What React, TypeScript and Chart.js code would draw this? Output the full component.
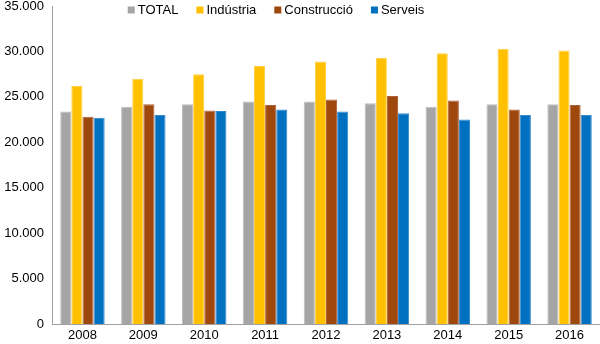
import React, { useEffect, useRef } from "react";
import { Chart, registerables } from "chart.js";

Chart.register(...registerables);

const years = ["2008", "2009", "2010", "2011", "2012", "2013", "2014", "2015", "2016"];
const total = [23400, 23900, 24200, 24500, 24500, 24300, 23900, 24200, 24200];
const industria = [26200, 27000, 27500, 28400, 28900, 29300, 29800, 30300, 30100];
const construccio = [22800, 24200, 23500, 24100, 24700, 25100, 24600, 23600, 24100];
const serveis = [22700, 23000, 23450, 23600, 23400, 23200, 22500, 23000, 23000];
const seriesNames = ["TOTAL", "Indústria", "Construcció", "Serveis"];
const seriesColors = ["#A5A5A5", "#FFC000", "#9E480E", "#0070C0"];
const seriesBorders = ["#BDBDBD", "#FFCF40", "#AE623A", "#3389CC"];

const FONT = "'Liberation Sans', Arial, sans-serif";

const fmt = (v: number) => {
  const s = Math.round(v).toString();
  return s.replace(/\B(?=(\d{3})+(?!\d))/g, ".");
};

const legendPlugin = {
  id: "topLegend",
  afterDraw(chart: any) {
    const ctx = chart.ctx;
    ctx.save();
    ctx.font = `13px ${FONT}`;
    ctx.textBaseline = "middle";
    const box = 7;
    const gapBox = 3;
    const gapItem = 18;
    const items = chart.data.datasets.map((d: any) => ({
      label: d.label,
      color: d.backgroundColor,
      w: box + gapBox + ctx.measureText(d.label).width,
    }));
    const totalW = items.reduce((a: number, it: any) => a + it.w, 0) + gapItem * (items.length - 1);
    let x = 276 - totalW / 2;
    const y = 10;
    items.forEach((it: any) => {
      ctx.fillStyle = it.color;
      ctx.fillRect(x, y - box / 2, box, box);
      ctx.fillStyle = "#000";
      ctx.textAlign = "left";
      ctx.fillText(it.label, x + box + gapBox, y + 0.5);
      x += it.w + gapItem;
    });
    ctx.restore();
  },
};

export default function App() {
  const ref = useRef<HTMLCanvasElement>(null);
  useEffect(() => {
    if (!ref.current) return;
    const data = [total, industria, construccio, serveis];
    const chart = new Chart(ref.current, {
      type: "bar",
      data: {
        labels: years,
        datasets: data.map((d, i) => ({
          label: seriesNames[i],
          data: d,
          backgroundColor: seriesColors[i],
          borderColor: seriesBorders[i],
          borderWidth: 1,
          categoryPercentage: 0.73,
          barPercentage: 1.0,
        })),
      },
      options: {
        responsive: false,
        animation: false,
        layout: { padding: { top: 0, left: 0, right: 0, bottom: 0 } },
        plugins: { legend: { display: false }, tooltip: { enabled: false } },
        scales: {
          x: {
            grid: { display: false, drawTicks: false },
            border: { display: true, color: "#A0A0A0", width: 1 },
            ticks: { color: "#000", font: { family: FONT, size: 13 }, padding: 4, maxRotation: 0 },
            afterFit: (s: any) => {
              s.height = 20;
              s.paddingLeft = 0;
              s.paddingRight = 0;
            },
          },
          y: {
            min: 0,
            max: 35000,
            grid: { display: false, drawTicks: false },
            border: { display: true, color: "#A0A0A0", width: 1 },
            ticks: {
              stepSize: 5000,
              color: "#000",
              font: { family: FONT, size: 13 },
              padding: 8,
              callback: (v: any) => fmt(Number(v)),
            },
            afterFit: (s: any) => {
              s.width = 52;
              s.paddingTop = 6;
              s.paddingBottom = 0;
            },
          },
        },
      },
      plugins: [legendPlugin],
    } as any);
    return () => chart.destroy();
  }, []);
  return (
    <div style={{ position: "absolute", left: 0, top: 0, width: 600, height: 344, background: "#fff" }}>
      <canvas ref={ref} width={600} height={344} style={{ display: "block" }} />
    </div>
  );
}
